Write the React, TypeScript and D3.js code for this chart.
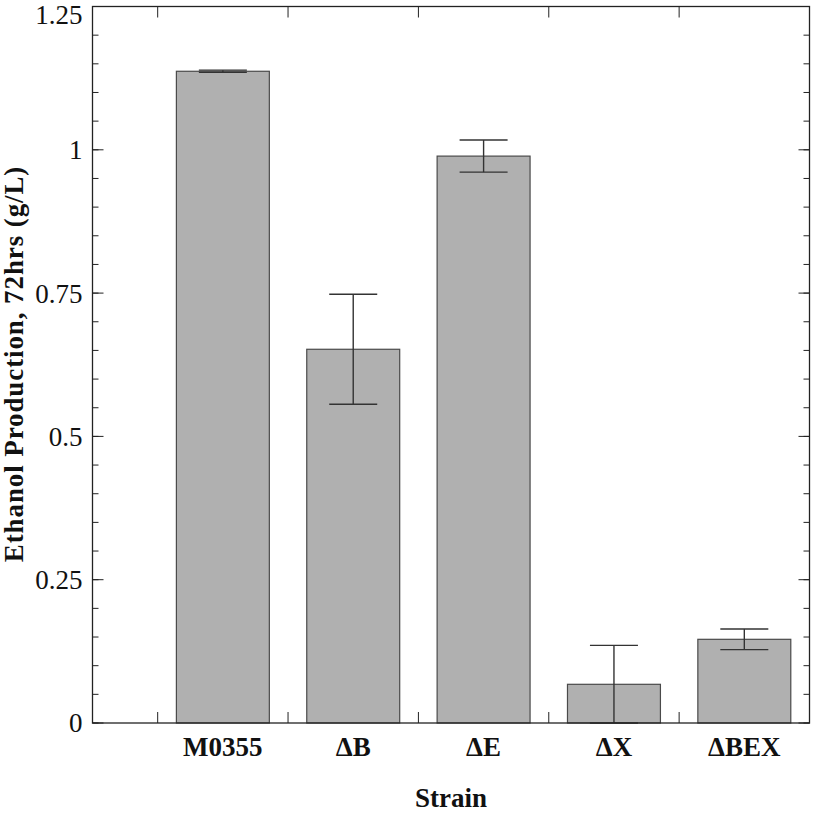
import React from "react";
import * as d3 from "d3";

const categories = ["M0355", "ΔB", "ΔE", "ΔX", "ΔBEX"];
const values = [1.137, 0.652, 0.989, 0.0675, 0.146];
const errors = [0.002, 0.096, 0.028, 0.068, 0.018];
const yTicks = [0, 0.25, 0.5, 0.75, 1, 1.25];
const yTickLabels = ["0", "0.25", "0.5", "0.75", "1", "1.25"];
const yMinorTicks = d3.range(0, 1.2501, 0.05);

const W = 813;
const H = 813;
const left = 92.5;
const right = 809.5;
const top = 6.5;
const bottom = 723;

export default function App() {
  const x = d3.scaleLinear().domain([-0.5, 5]).range([left, right]);
  const y = d3.scaleLinear().domain([0, 1.25]).range([bottom, top]);
  const band = x(1) - x(0);
  const barW = band * 0.713;
  const capW = 48;
  const font = "'Liberation Serif', 'Times New Roman', serif";
  return (
    <svg
      width={W}
      height={H}
      style={{ position: "absolute", left: 0, top: 0, background: "#fff" }}
    >
      {/* bars */}
      {values.map((v, i) => (
        <rect
          key={"b" + i}
          x={x(i + 0.5) - barW / 2}
          y={y(v)}
          width={barW}
          height={y(0) - y(v)}
          fill="#b0b0b0"
          stroke="#4a4a4a"
          strokeWidth={1.2}
        />
      ))}
      {/* error bars */}
      {values.map((v, i) => {
        const cx = x(i + 0.5);
        const hi = y(v + errors[i]);
        const lo = y(Math.max(0, v - errors[i]));
        return (
          <g key={"e" + i} stroke="#333" strokeWidth={1.4}>
            <line x1={cx} x2={cx} y1={hi} y2={lo} />
            <line x1={cx - capW / 2} x2={cx + capW / 2} y1={hi} y2={hi} />
            <line x1={cx - capW / 2} x2={cx + capW / 2} y1={lo} y2={lo} />
          </g>
        );
      })}
      {/* frame */}
      <rect
        x={left}
        y={top}
        width={right - left}
        height={bottom - top}
        fill="none"
        stroke="#222"
        strokeWidth={1.3}
      />
      {/* y minor ticks */}
      {yMinorTicks.map((t, i) => (
        <g key={"m" + i} stroke="#222" strokeWidth={1}>
          <line x1={left} x2={left + 6} y1={y(t)} y2={y(t)} />
          <line x1={right} x2={right - 6} y1={y(t)} y2={y(t)} />
        </g>
      ))}
      {/* y major ticks */}
      {yTicks.map((t, i) => (
        <g key={"t" + i}>
          <line x1={left} x2={left + 11} y1={y(t)} y2={y(t)} stroke="#222" strokeWidth={1} />
          <line x1={right} x2={right - 11} y1={y(t)} y2={y(t)} stroke="#222" strokeWidth={1} />
          <text
            x={left - 10}
            y={Math.max(y(t), 15)}
            dy="0.35em"
            textAnchor="end"
            fontFamily={font}
            fontSize={27}
            fill="#111"
          >
            {yTickLabels[i]}
          </text>
        </g>
      ))}
      {/* x ticks */}
      {categories.map((c, i) => (
        <g key={"x" + i}>
          <line x1={x(i)} x2={x(i)} y1={bottom} y2={bottom - 11} stroke="#222" strokeWidth={1} />
          <line x1={x(i)} x2={x(i)} y1={top} y2={top + 11} stroke="#222" strokeWidth={1} />
          <text
            x={x(i + 0.5)}
            y={756}
            textAnchor="middle"
            fontFamily={font}
            fontWeight="bold"
            fontSize={27}
            fill="#111"
          >
            {c}
          </text>
        </g>
      ))}
      {/* axis titles */}
      <text
        x={(left + right) / 2}
        y={807}
        textAnchor="middle"
        fontFamily={font}
        fontWeight="bold"
        fontSize={27}
        fill="#111"
      >
        Strain
      </text>
      <text
        transform={`translate(23, 364) rotate(-90)`}
        textAnchor="middle"
        fontFamily={font}
        fontWeight="bold"
        fontSize={27}
        letterSpacing={0.9}
        fill="#111"
      >
        Ethanol Production, 72hrs (g/L)
      </text>
    </svg>
  );
}
